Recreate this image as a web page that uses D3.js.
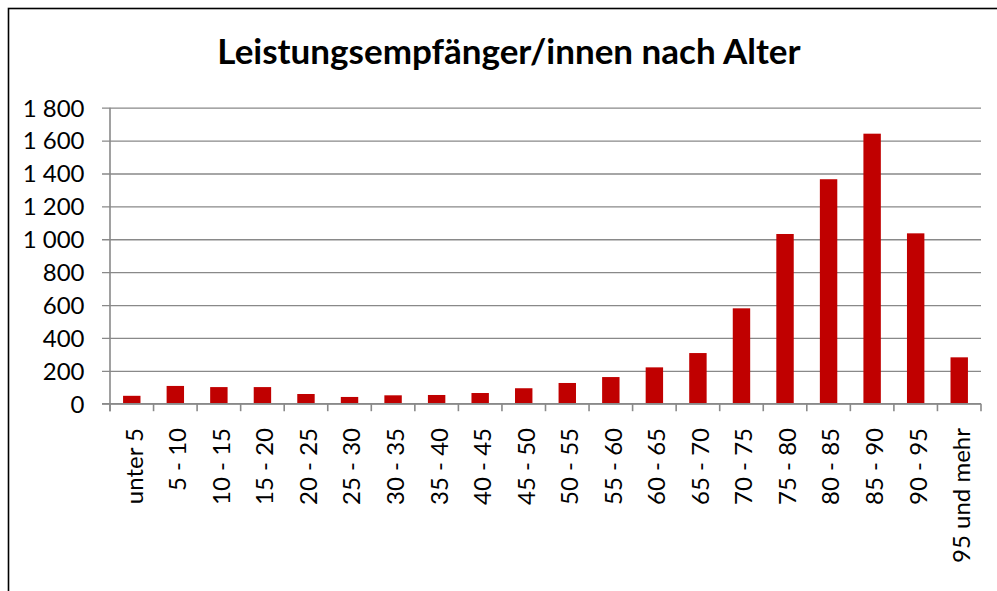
<!DOCTYPE html>
<html>
<head>
<meta charset="utf-8">
<title>Leistungsempfänger/innen nach Alter</title>
<style>
    body { margin: 0; background: #fff; }
    svg { display: block; }
</style>
</head>
<body>
<main></main>
<script src="https://cdn.jsdelivr.net/npm/d3@7"></script>
<script>
    // Altersgruppen
    var categories = ["unter 5", "5 - 10", "10 - 15", "15 - 20", "20 - 25", "25 - 30",
        "30 - 35", "35 - 40", "40 - 45", "45 - 50", "50 - 55", "55 - 60", "60 - 65",
        "65 - 70", "70 - 75", "75 - 80", "80 - 85", "85 - 90", "90 - 95", "95 und mehr"];
    // Leistungsempfänger/innen je Altersgruppe (aus dem Bild geschätzt)
    var values = [48, 108, 101, 101, 59, 41, 51, 53, 65, 94, 126, 162, 221, 308,
        580, 1032, 1365, 1642, 1036, 282];
    var yTicks = [0, 200, 400, 600, 800, 1000, 1200, 1400, 1600, 1800];

    var width = 997, height = 591;
    var plot = {left: 110, right: 981, top: 107.7, bottom: 403.7};
    var gridColor = "#898989";
    var labelFont = "Lato, 'Open Sans', sans-serif";

    var svg = d3.select("main").append("svg")
        .attr("width", width)
        .attr("height", height);

    // Rahmen
    svg.append("rect")
        .attr("x", 8.5).attr("y", 8.5)
        .attr("width", 1000).attr("height", 600)
        .attr("fill", "none")
        .attr("stroke", "#000")
        .attr("stroke-width", 1.6);

    svg.append("text")
        .attr("x", 509).attr("y", 63.5)
        .attr("text-anchor", "middle")
        .attr("font-family", labelFont)
        .attr("font-weight", "bold")
        .attr("font-size", 35)
        .attr("fill", "#000")
        .text("Leistungsempfänger/innen nach Alter");

    var x = d3.scaleBand()
        .domain(categories)
        .range([plot.left, plot.right])
        .paddingInner(0.6)
        .paddingOuter(0.3);

    var y = d3.scaleLinear()
        .domain([0, 1800])
        .range([plot.bottom, plot.top]);

    var locale = d3.formatLocale({decimal: ",", thousands: " ", grouping: [3], currency: ["", ""]});
    var fmt = locale.format(",d");

    // Gitterlinien + y-Achse
    var yAxis = d3.axisLeft(y)
        .tickValues(yTicks)
        .tickSize(-(plot.right - plot.left))
        .tickPadding(0)
        .tickFormat(fmt);

    var gy = svg.append("g")
        .attr("transform", "translate(" + plot.left + ",0)")
        .call(yAxis);
    gy.select(".domain").remove();
    gy.selectAll(".tick line")
        .attr("x1", -8)
        .attr("stroke", gridColor)
        .attr("stroke-width", 1.3);
    gy.selectAll(".tick text")
        .attr("x", -25.5)
        .attr("dy", "0.35em")
        .attr("font-family", labelFont)
        .attr("font-size", 24)
        .attr("fill", "#000");

    // Balken
    svg.selectAll("rect.bar")
        .data(values)
        .enter()
        .append("rect")
        .attr("class", "bar")
        .attr("x", function (d, i) { return x(categories[i]); })
        .attr("y", function (d) { return y(d); })
        .attr("width", x.bandwidth())
        .attr("height", function (d) { return y(0) - y(d); })
        .attr("fill", "#c00000");

    // x-Achse mit Teilstrichen an den Kategoriegrenzen
    var step = x.step();
    var bounds = d3.range(categories.length + 1).map(function (i) { return plot.left + i * step; });

    var gx = svg.append("g");
    gx.append("line")
        .attr("x1", plot.left - 8).attr("x2", plot.right)
        .attr("y1", plot.bottom).attr("y2", plot.bottom)
        .attr("stroke", gridColor).attr("stroke-width", 1.6);
    gx.append("line")
        .attr("x1", plot.left).attr("x2", plot.left)
        .attr("y1", plot.top).attr("y2", plot.bottom + 7.5)
        .attr("stroke", gridColor).attr("stroke-width", 1.6);
    gx.selectAll("line.tick")
        .data(bounds)
        .enter()
        .append("line")
        .attr("class", "tick")
        .attr("x1", function (d) { return d; })
        .attr("x2", function (d) { return d; })
        .attr("y1", plot.bottom)
        .attr("y2", plot.bottom + 7.5)
        .attr("stroke", gridColor)
        .attr("stroke-width", 1.6);

    gx.selectAll("text")
        .data(categories)
        .enter()
        .append("text")
        .attr("transform", function (d) {
            return "translate(" + (x(d) + x.bandwidth() / 2 + 2.5) + ",428) rotate(-90)";
        })
        .attr("text-anchor", "end")
        .attr("dy", "0.35em")
        .attr("font-family", labelFont)
        .attr("font-size", 24)
        .attr("fill", "#000")
        .text(function (d) { return d; });
</script>
</body>
</html>
